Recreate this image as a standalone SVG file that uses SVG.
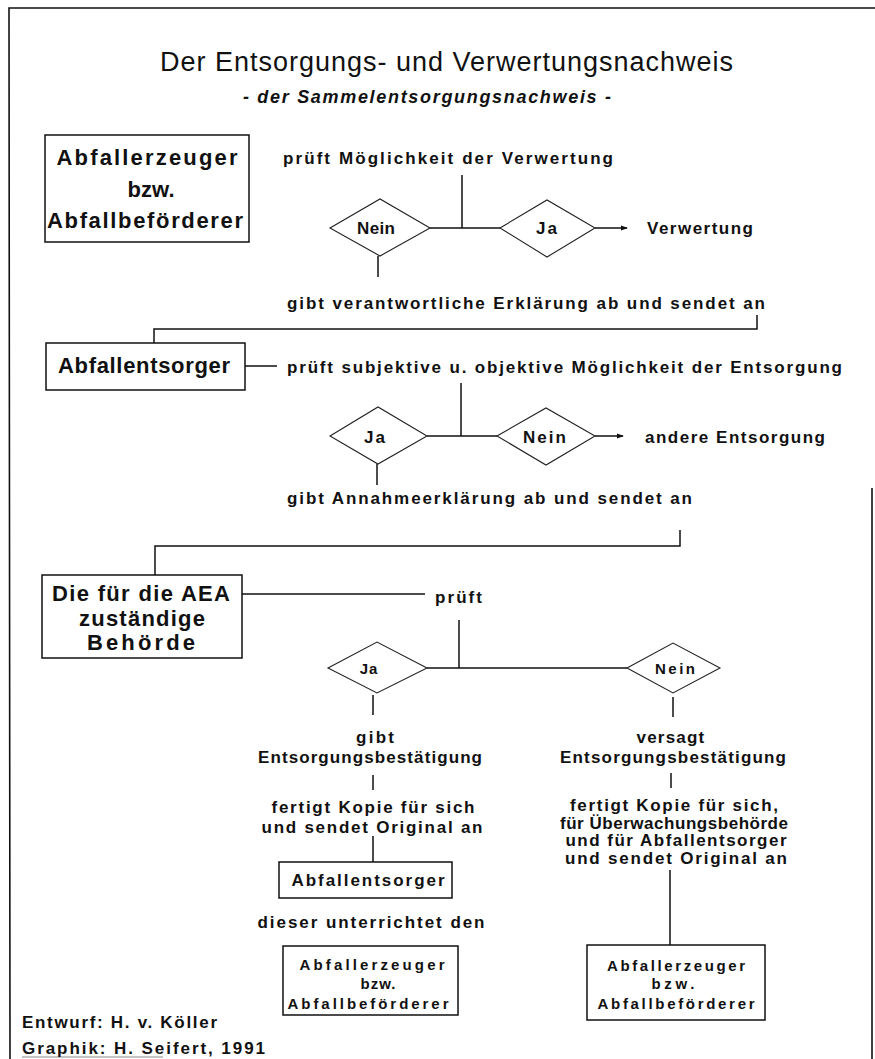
<svg xmlns="http://www.w3.org/2000/svg" width="875" height="1059" viewBox="0 0 875 1059">
  <style>
    .t { font-family: "Liberation Sans", Arial, sans-serif; font-weight: bold; font-size: 17px; fill: #111; dominant-baseline: central; }
    .big { font-size: 22px; }
    .sm { font-size: 15px; }
    .mid { text-anchor: middle; }
    .title { font-family: "Liberation Sans", Arial, sans-serif; font-size: 27px; fill: #111; dominant-baseline: central; }
    .sub { font-family: "Liberation Sans", Arial, sans-serif; font-size: 18px; font-weight: bold; font-style: italic; fill: #111; dominant-baseline: central; }
    .bx { fill: #fff; stroke: #111; stroke-width: 1.5; }
    .dm { fill: #fff; stroke: #222; stroke-width: 1.1; }
    .ln { fill: none; stroke: #111; stroke-width: 1.5; }
    .frame { fill: none; stroke: #111; stroke-width: 1.6; }
  </style>
  <defs>
    <marker id="arrow" viewBox="0 0 8 8" refX="7" refY="4" markerWidth="7" markerHeight="7" markerUnits="userSpaceOnUse" orient="auto">
      <path d="M0,1 L8,4 L0,7 z" fill="#111"/>
    </marker>
  </defs>

  <rect width="875" height="1059" fill="#fff"/>

  <!-- sheet frame -->
  <g id="frame">
    <path class="frame" d="M10,1059 L9,8 L875,8"/>
    <path class="frame" d="M872,488 L872,1059"/>
    <path d="M22,1057 H163" stroke="#888" stroke-width="1" fill="none"/>
  </g>

  <!-- headings -->
  <g id="heading">
    <text class="title" x="160" y="62" textLength="573" lengthAdjust="spacing">Der Entsorgungs- und Verwertungsnachweis</text>
    <text class="sub" x="243" y="97" textLength="368" lengthAdjust="spacing">- der Sammelentsorgungsnachweis -</text>
  </g>

  <!-- connectors -->
  <g id="connectors">
    <!-- stage 1 -->
    <path class="ln" d="M462,175 V228"/>
    <path class="ln" d="M430,228 H500"/>
    <path class="ln" d="M595,228 H627" marker-end="url(#arrow)"/>
    <path class="ln" d="M378,256 V277"/>
    <path class="ln" d="M757,315 V329 H154 V343"/>
    <!-- stage 2 -->
    <path class="ln" d="M245,366 H277"/>
    <path class="ln" d="M461,383 V436"/>
    <path class="ln" d="M427,436 H497"/>
    <path class="ln" d="M595,436 H623" marker-end="url(#arrow)"/>
    <path class="ln" d="M377,464 V485"/>
    <path class="ln" d="M680,530 V546 H155 V575"/>
    <!-- stage 3 -->
    <path class="ln" d="M242,594 H425"/>
    <path class="ln" d="M459,620 V668"/>
    <path class="ln" d="M427,668 H627"/>
    <path class="ln" d="M373,695 V715"/>
    <path class="ln" d="M673,697 V717"/>
    <path class="ln" d="M373,775 V790"/>
    <path class="ln" d="M373,836 V862"/>
    <path class="ln" d="M671,773 V788"/>
    <path class="ln" d="M670,870 V945"/>
  </g>

  <!-- stage 1 -->
  <g id="box-erzeuger">
    <rect class="bx" x="45" y="135" width="204" height="107"/>
    <text class="t big mid" x="147" y="157" textLength="181" lengthAdjust="spacing">Abfallerzeuger</text>
    <text class="t big mid" x="151" y="189" textLength="47" lengthAdjust="spacing">bzw.</text>
    <text class="t big mid" x="145" y="220" textLength="196" lengthAdjust="spacing">Abfallbeförderer</text>
  </g>
  <text class="t" x="283" y="158" textLength="330" lengthAdjust="spacing">prüft Möglichkeit der Verwertung</text>
  <g id="d1-nein">
    <polygon class="dm" points="330,228 380,199 430,228 380,256"/>
    <text class="t" x="357" y="228" textLength="38" lengthAdjust="spacing">Nein</text>
  </g>
  <g id="d1-ja">
    <polygon class="dm" points="500,228 547,200 595,228 547,257"/>
    <text class="t" x="536" y="228" textLength="21" lengthAdjust="spacing">Ja</text>
  </g>
  <text class="t" x="647" y="228" textLength="106" lengthAdjust="spacing">Verwertung</text>
  <text class="t" x="287" y="303" textLength="478" lengthAdjust="spacing">gibt verantwortliche Erklärung ab und sendet an</text>

  <!-- stage 2 -->
  <g id="box-entsorger">
    <rect class="bx" x="46" y="343" width="199" height="47"/>
    <text class="t big mid" x="144" y="365" textLength="172" lengthAdjust="spacing">Abfallentsorger</text>
  </g>
  <text class="t" x="287" y="367" textLength="555" lengthAdjust="spacing">prüft subjektive u. objektive Möglichkeit der Entsorgung</text>
  <g id="d2-ja">
    <polygon class="dm" points="330,436 378,407 427,436 378,464"/>
    <text class="t" x="364" y="437" textLength="21" lengthAdjust="spacing">Ja</text>
  </g>
  <g id="d2-nein">
    <polygon class="dm" points="497,436 546,408 595,436 546,465"/>
    <text class="t" x="523" y="437" textLength="43" lengthAdjust="spacing">Nein</text>
  </g>
  <text class="t" x="645" y="437" textLength="180" lengthAdjust="spacing">andere Entsorgung</text>
  <text class="t" x="287" y="498" textLength="405" lengthAdjust="spacing">gibt Annahmeerklärung ab und sendet an</text>

  <!-- stage 3 -->
  <g id="box-behoerde">
    <rect class="bx" x="42" y="575" width="200" height="83"/>
    <text class="t big mid" x="141" y="593" textLength="178" lengthAdjust="spacing">Die für die AEA</text>
    <text class="t big mid" x="142" y="618" textLength="126" lengthAdjust="spacing">zuständige</text>
    <text class="t big mid" x="141" y="642" textLength="108" lengthAdjust="spacing">Behörde</text>
  </g>
  <text class="t" x="435" y="597" textLength="47" lengthAdjust="spacing">prüft</text>
  <g id="d3-ja">
    <polygon class="dm" points="328,668 377,642 427,668 377,693"/>
    <text class="t sm mid" x="369" y="668" letter-spacing="1">Ja</text>
  </g>
  <g id="d3-nein">
    <polygon class="dm" points="627,668 673,643 720,668 673,693"/>
    <text class="t sm" x="655" y="668" textLength="40" lengthAdjust="spacing">Nein</text>
  </g>

  <!-- left branch -->
  <g id="branch-ja">
    <text class="t mid" x="375" y="737" textLength="38" lengthAdjust="spacing">gibt</text>
    <text class="t mid" x="370" y="757" textLength="224" lengthAdjust="spacing">Entsorgungsbestätigung</text>
    <text class="t mid" x="373" y="807" textLength="203" lengthAdjust="spacing">fertigt Kopie für sich</text>
    <text class="t mid" x="372" y="827" textLength="221" lengthAdjust="spacing">und sendet Original an</text>
  </g>
  <g id="box-entsorger-2">
    <rect class="bx" x="279" y="862" width="173" height="36"/>
    <text class="t mid" x="368" y="880" textLength="153" lengthAdjust="spacing">Abfallentsorger</text>
  </g>
  <text class="t mid" x="371" y="922" textLength="227" lengthAdjust="spacing">dieser unterrichtet den</text>
  <g id="box-erzeuger-2">
    <rect class="bx" x="283" y="946" width="175" height="69"/>
    <text class="t sm mid" x="372" y="964" textLength="145" lengthAdjust="spacing">Abfallerzeuger</text>
    <text class="t sm mid" x="378" y="983" textLength="35" lengthAdjust="spacing">bzw.</text>
    <text class="t sm mid" x="368" y="1003" textLength="161" lengthAdjust="spacing">Abfallbeförderer</text>
  </g>

  <!-- right branch -->
  <g id="branch-nein">
    <text class="t mid" x="671" y="737" letter-spacing="1.2">versagt</text>
    <text class="t mid" x="673" y="757" textLength="226" lengthAdjust="spacing">Entsorgungsbestätigung</text>
    <text class="t mid" x="674" y="805" textLength="208" lengthAdjust="spacing">fertigt Kopie für sich,</text>
    <text class="t mid" x="674" y="823" textLength="228" lengthAdjust="spacing">für Überwachungsbehörde</text>
    <text class="t mid" x="676" y="840" textLength="221" lengthAdjust="spacing">und für Abfallentsorger</text>
    <text class="t mid" x="676" y="858" textLength="222" lengthAdjust="spacing">und sendet Original an</text>
  </g>
  <g id="box-erzeuger-3">
    <rect class="bx" x="587" y="945" width="178" height="75"/>
    <text class="t sm mid" x="676" y="965" textLength="138" lengthAdjust="spacing">Abfallerzeuger</text>
    <text class="t sm mid" x="673" y="983" textLength="43" lengthAdjust="spacing">bzw.</text>
    <text class="t sm mid" x="676" y="1003" textLength="157" lengthAdjust="spacing">Abfallbeförderer</text>
  </g>

  <!-- credits -->
  <g id="credits">
    <text class="t" x="22" y="1022" textLength="195" lengthAdjust="spacing">Entwurf: H. v. Köller</text>
    <text class="t" x="22" y="1048" textLength="243" lengthAdjust="spacing">Graphik: H. Seifert, 1991</text>
  </g>
</svg>
